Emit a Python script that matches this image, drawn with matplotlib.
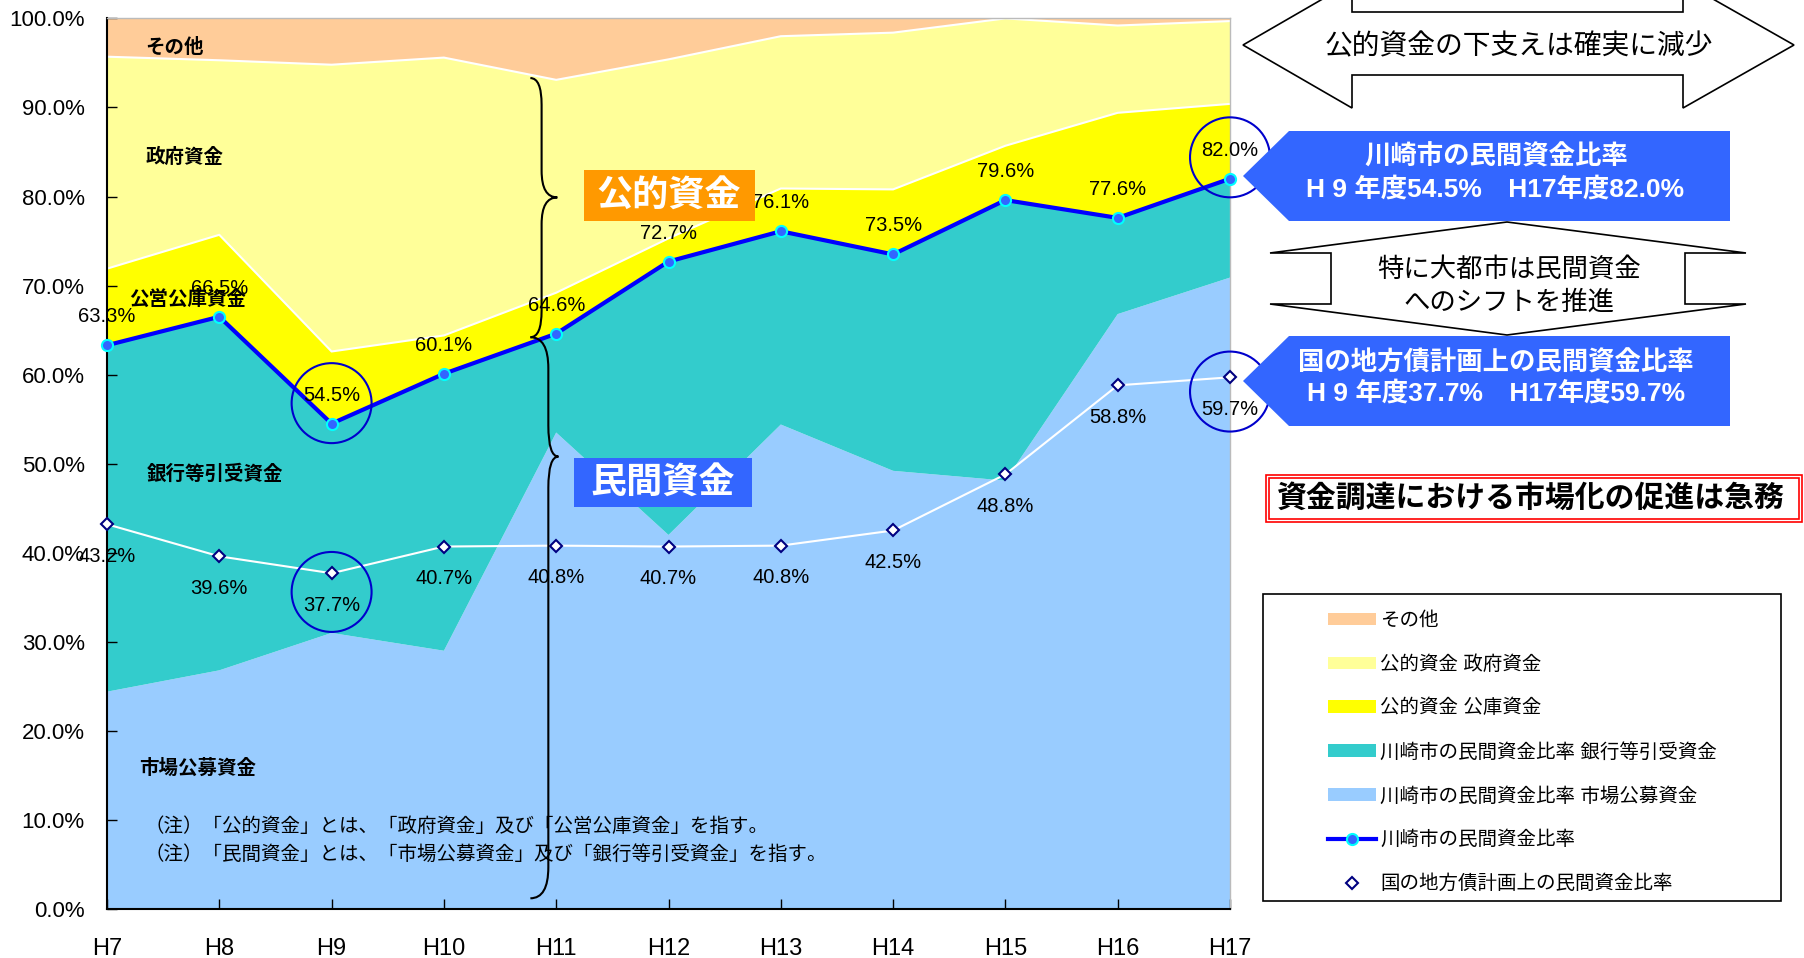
import numpy as np
import matplotlib.pyplot as plt
from matplotlib.patches import Polygon, Rectangle, Ellipse, PathPatch
from matplotlib.path import Path
from matplotlib.ticker import FuncFormatter

plt.rcParams['font.family'] = ['Liberation Sans', 'Noto Sans CJK JP']

years = ['H7', 'H8', 'H9', 'H10', 'H11', 'H12', 'H13', 'H14', 'H15', 'H16', 'H17']

# stacked shares (%), bottom to top
market = [24.4, 26.8, 31.0, 29.0, 53.5, 42.0, 54.4, 49.2, 48.1, 66.8, 70.9]   # 市場公募資金
bank = [38.9, 39.7, 23.5, 31.1, 11.1, 30.7, 21.7, 24.3, 31.5, 10.8, 11.1]     # 銀行等引受資金
koko = [8.6, 9.2, 8.1, 4.3, 4.6, 2.6, 4.8, 7.3, 6.1, 11.8, 8.4]              # 公庫資金
gov = [23.8, 19.6, 32.2, 31.2, 23.9, 20.1, 17.1, 17.6, 14.3, 9.8, 9.3]       # 政府資金
other = [4.3, 4.7, 5.2, 4.4, 6.9, 4.6, 2.0, 1.6, 0.0, 0.8, 0.3]              # その他

kawasaki = [63.3, 66.5, 54.5, 60.1, 64.6, 72.7, 76.1, 73.5, 79.6, 77.6, 82.0]
national = [43.2, 39.6, 37.7, 40.7, 40.8, 40.7, 40.8, 42.5, 48.8, 58.8, 59.7]

layer_labels = ['川崎市の民間資金比率 市場公募資金', '川崎市の民間資金比率 銀行等引受資金',
                '公的資金 公庫資金', '公的資金 政府資金', 'その他']
layer_colors = ['#99CCFF', '#33CCCC', '#FFFF00', '#FFFF99', '#FFCC99']

x = np.arange(len(years))

fig = plt.figure(figsize=(18.04, 9.58), dpi=100)
ax = fig.add_axes([107 / 1804, 49 / 958, 1123 / 1804, 890.6 / 958])

polys = ax.stackplot(x, market, bank, koko, gov, other, colors=layer_colors,
                     labels=layer_labels, linewidth=0)
cum = np.cumsum([market, bank, koko, gov], axis=0)
ax.plot(x, cum[2], color='white', lw=1.5, zorder=2)
ax.plot(x, cum[3], color='white', lw=1.5, zorder=2)

l_kaw, = ax.plot(x, kawasaki, color='#0000FF', lw=3, marker='o', ms=8,
                 mfc='#3366FF', mec='#00FFFF', mew=1.5, clip_on=False, zorder=5,
                 label='川崎市の民間資金比率')
l_nat, = ax.plot(x, national, color='white', lw=1.5, marker='D', ms=6.5,
                 mfc='white', mec='#000080', mew=1.5, clip_on=False, zorder=5,
                 label='国の地方債計画上の民間資金比率')

for i in x:
    ax.text(i, kawasaki[i] + 3.2, f'{kawasaki[i]:.1f}%', ha='center', va='center',
            fontsize=14.5, zorder=7)
    ax.text(i, national[i] - 3.6, f'{national[i]:.1f}%', ha='center', va='center',
            fontsize=14.5, zorder=7)

# circles around H9 / H17 values
for xi, yc in [(2, kawasaki[2] + 2.3), (2, national[2] - 2.1),
               (10, kawasaki[10] + 2.4), (10, national[10] - 1.6)]:
    ax.add_patch(Ellipse((xi, yc), 0.712, 8.98, fill=False, ec='#0000CC', lw=1.5,
                         clip_on=False, zorder=8))


def brace(xe, xm, xt, yt, ytip, yb, r):
    verts = [(xe, yt), (xm, yt), (xm, yt - r), (xm, ytip + r), (xm, ytip), (xt, ytip),
             (xm, ytip), (xm, ytip - r), (xm, yb + r), (xm, yb), (xe, yb)]
    codes = [Path.MOVETO, Path.CURVE3, Path.CURVE3, Path.LINETO, Path.CURVE3, Path.CURVE3,
             Path.CURVE3, Path.CURVE3, Path.LINETO, Path.CURVE3, Path.CURVE3]
    ax.add_patch(PathPatch(Path(verts, codes), fill=False, ec='black', lw=1.5,
                           zorder=8, clip_on=False))


brace(3.77, 3.87, 4.01, 93.3, 79.9, 64.2, 3.0)
brace(3.77, 3.93, 4.02, 64.2, 50.8, 1.2, 3.5)

# in-chart series labels
bold = dict(fontsize=14, fontweight='bold', va='center', ha='left', zorder=7)
ax.text(0.34, 96.8, 'その他', **bold)
ax.text(0.34, 84.4, '政府資金', **bold)
ax.text(0.20, 68.5, '公営公庫資金', **bold)
ax.text(0.35, 48.8, '銀行等引受資金', **bold)
ax.text(0.29, 15.8, '市場公募資金', **bold)
ax.text(0.33, 9.3, '（注）「公的資金」とは、「政府資金」及び「公営公庫資金」を指す。',
        fontsize=14, va='center', zorder=7)
ax.text(0.33, 6.1, '（注）「民間資金」とは、「市場公募資金」及び「銀行等引受資金」を指す。',
        fontsize=14, va='center', zorder=7)

ax.set_xlim(0, 10)
ax.set_ylim(0, 100)
ax.set_xticks(x)
ax.set_xticklabels(years)
ax.set_yticks(np.arange(0, 101, 10))
ax.yaxis.set_major_formatter(FuncFormatter(lambda v, _: f'{v:.1f}%'))
ax.tick_params(axis='both', direction='in', length=7, width=1)
ax.tick_params(axis='y', labelsize=16, pad=16)
ax.tick_params(axis='x', labelsize=17, pad=21)
for s in ['left', 'bottom']:
    ax.spines[s].set_color('black')
    ax.spines[s].set_linewidth(1.5)
for s in ['top', 'right']:
    ax.spines[s].set_color('#BBBBBB')
    ax.spines[s].set_linewidth(1)

# overlay in pixel coordinates for annotation shapes
ov = fig.add_axes([0, 0, 1, 1])
ov.set_xlim(0, 1804)
ov.set_ylim(958, 0)
ov.axis('off')

ov.add_patch(Rectangle((584, 170), 171, 51, fc='#FF9900', ec='none'))
ov.text(669, 196, '公的資金', color='white', fontsize=26, fontweight='bold', ha='center', va='center')
ov.add_patch(Rectangle((574, 458), 178, 49, fc='#3366FF', ec='none'))
ov.text(663, 483, '民間資金', color='white', fontsize=26, fontweight='bold', ha='center', va='center')

dbl = [(1243, 45), (1352, -18), (1352, 12), (1683, 12), (1683, -18), (1794, 45),
       (1683, 108), (1683, 75), (1352, 75), (1352, 108)]
ov.add_patch(Polygon(dbl, closed=True, fc='white', ec='black', lw=1.2, clip_on=False))
ov.text(1519, 47, '公的資金の下支えは確実に減少', fontsize=20, ha='center', va='center')

pent1 = [(1243, 176), (1289, 131), (1730, 131), (1730, 221), (1289, 221)]
ov.add_patch(Polygon(pent1, closed=True, fc='#3366FF', ec='none'))
ov.text(1496, 157, '川崎市の民間資金比率', color='white', fontsize=19, fontweight='bold',
        ha='center', va='center')
ov.text(1495, 189, 'H 9 年度54.5%　H17年度82.0%', color='white', fontsize=19,
        fontweight='bold', ha='center', va='center')

hexa = [(1507, 222), (1746, 253), (1685, 253), (1685, 304), (1746, 304), (1507, 335),
        (1270, 304), (1331, 304), (1331, 253), (1270, 253)]
ov.add_patch(Polygon(hexa, closed=True, fc='white', ec='black', lw=1.2))
ov.text(1509, 269, '特に大都市は民間資金', fontsize=19, ha='center', va='center')
ov.text(1509, 302, 'へのシフトを推進', fontsize=19, ha='center', va='center')

pent2 = [(1243, 381), (1289, 336), (1730, 336), (1730, 426), (1289, 426)]
ov.add_patch(Polygon(pent2, closed=True, fc='#3366FF', ec='none'))
ov.text(1496, 363, '国の地方債計画上の民間資金比率', color='white', fontsize=19,
        fontweight='bold', ha='center', va='center')
ov.text(1496, 393, 'H 9 年度37.7%　H17年度59.7%', color='white', fontsize=19,
        fontweight='bold', ha='center', va='center')

ov.add_patch(Rectangle((1266, 475), 536, 47, fill=False, ec='#FF0000', lw=1.2))
ov.add_patch(Rectangle((1269, 478), 530, 41, fill=False, ec='#FF0000', lw=1.2))
ov.text(1531, 498, '資金調達における市場化の促進は急務', fontsize=21.5, fontweight='bold',
        ha='center', va='center')

ov.add_patch(Rectangle((1263, 594), 518, 307, fill=False, ec='black', lw=1.2))

handles = [polys[4], polys[3], polys[2], polys[1], polys[0], l_kaw, l_nat]
labels = [h.get_label() for h in handles]
fig.legend(handles, labels, loc='upper left', bbox_to_anchor=(1328 / 1804, 1 - 612 / 958),
           frameon=False, fontsize=14, handlelength=2.45, handleheight=0.6,
           handletextpad=0.25, labelspacing=1.3, borderpad=0, borderaxespad=0)

fig.savefig('out.png', dpi=100)
